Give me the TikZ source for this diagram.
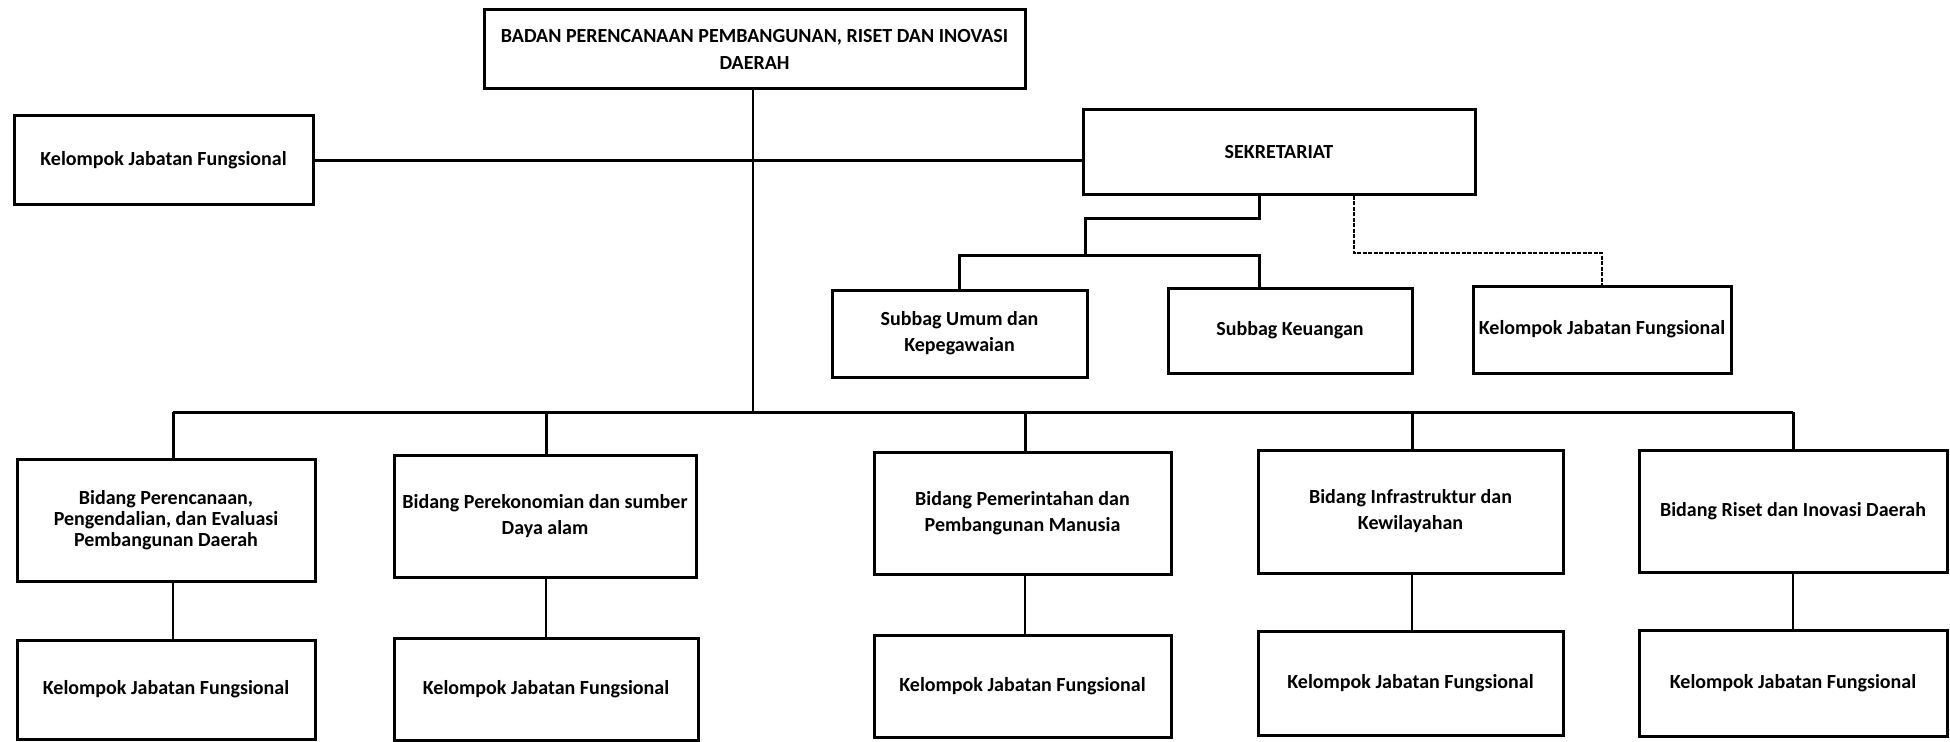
\documentclass[tikz,border=0pt]{standalone}
\usepackage{fontspec}
\setmainfont{Carlito}
\begin{document}
\begin{tikzpicture}[x=1pt,y=-1pt,
  box/.style={draw, line width=3pt, align=center, inner sep=0pt,
    font=\bfseries\fontsize{20}{26}\selectfont},
  thick line/.style={line width=3pt},
  thin line/.style={line width=1.6pt},
  dash line/.style={line width=1.6pt, dash pattern=on 4pt off 1.5pt}]
\fill[white] (0,0) rectangle (1950,741);
\useasboundingbox (0,0) rectangle (1950,741);

% top
\node[box, minimum width=541pt, minimum height=79pt,
  font=\bfseries\fontsize{20}{27}\selectfont] (top) at (754.5,49.5)
  {BADAN PERENCANAAN PEMBANGUNAN, RISET DAN INOVASI\\DAERAH};
\node[box, minimum width=299pt, minimum height=88pt] (kjfL) at (163.5,160) {Kelompok Jabatan Fungsional};
\node[box, minimum width=392pt, minimum height=84pt] (sek) at (1279,152) {\raisebox{-5pt}{SEKRETARIAT}};
\node[box, minimum width=255pt, minimum height=87pt] (umum) at (959.5,333.5) {Subbag Umum dan\\Kepegawaian};
\node[box, minimum width=244pt, minimum height=85pt] (keu) at (1290,330.5) {Subbag Keuangan};
\node[box, minimum width=258pt, minimum height=87pt] (kjfS) at (1602,329.5) {Kelompok Jabatan Fungsional};

% bidang
\node[box, minimum width=298pt, minimum height=122pt,
  font=\bfseries\fontsize{20}{21}\selectfont] (b1) at (166,520)
  {Bidang Perencanaan,\\Pengendalian, dan Evaluasi\\Pembangunan Daerah};
\node[box, minimum width=302pt, minimum height=122pt] (b2) at (545,516)
  {Bidang Perekonomian dan sumber\\Daya alam};
\node[box, minimum width=297pt, minimum height=122pt] (b3) at (1022.5,513)
  {Bidang Pemerintahan dan\\Pembangunan Manusia};
\node[box, minimum width=305pt, minimum height=123pt] (b4) at (1410.5,511.5)
  {Bidang Infrastruktur dan\\Kewilayahan};
\node[box, minimum width=308pt, minimum height=122pt] (b5) at (1793,511)
  {Bidang Riset dan Inovasi Daerah};

% kelompok bottom
\node[box, minimum width=298pt, minimum height=99pt] (k1) at (166,689.5) {Kelompok Jabatan Fungsional};
\node[box, minimum width=304pt, minimum height=102pt] (k2) at (546,689) {Kelompok Jabatan Fungsional};
\node[box, minimum width=297pt, minimum height=102pt] (k3) at (1022.5,686) {Kelompok Jabatan Fungsional};
\node[box, minimum width=305pt, minimum height=104pt] (k4) at (1410.5,683) {Kelompok Jabatan Fungsional};
\node[box, minimum width=308pt, minimum height=106pt] (k5) at (1793,683) {Kelompok Jabatan Fungsional};

% coordinates
\coordinate (bus) at (0,412);
\coordinate (j1) at (1085,218);
\coordinate (j2) at (1085,255);
\coordinate (j3) at (1354,253);

% connectors
\draw[thin line] ([xshift=-1.5pt]top.south) -- ([xshift=-1.5pt]top.south |- bus);
\draw[thick line] (kjfL.east) -- (kjfL.east -| sek.west);
\draw[thick line] ([xshift=7pt]b1.north |- bus) -- (b5.north |- bus);
\draw[thick line] ([xshift=7pt]b1.north) -- ([xshift=7pt]b1.north |- bus);
\draw[thick line] ([xshift=1pt]b2.north) -- ([xshift=1pt]b2.north |- bus);
\draw[thick line] ([xshift=2.5pt]b3.north) -- ([xshift=2.5pt]b3.north |- bus);
\draw[thick line] ([xshift=1.5pt]b4.north) -- ([xshift=1.5pt]b4.north |- bus);
\draw[thick line] (b5.north) -- (b5.north |- bus);

\draw[thin line] ([xshift=7pt]b1.south) -- ([xshift=7pt]b1.south |- k1.north);
\draw[thin line] ([xshift=1pt]b2.south) -- ([xshift=1pt]b2.south |- k2.north);
\draw[thin line] ([xshift=2.5pt]b3.south) -- ([xshift=2.5pt]b3.south |- k3.north);
\draw[thin line] ([xshift=1.5pt]b4.south) -- ([xshift=1.5pt]b4.south |- k4.north);
\draw[thin line] (b5.south) -- (k5.north);

\draw[thick line] ([xshift=-20pt]sek.south) |- (j1) -- (j2);
\draw[thick line] (umum.north) |- (j2) -| ([xshift=-31pt]keu.north);
\draw[dash line] ([xshift=75pt]sek.south) -- (j3) -| (kjfS.north);
\end{tikzpicture}
\end{document}
